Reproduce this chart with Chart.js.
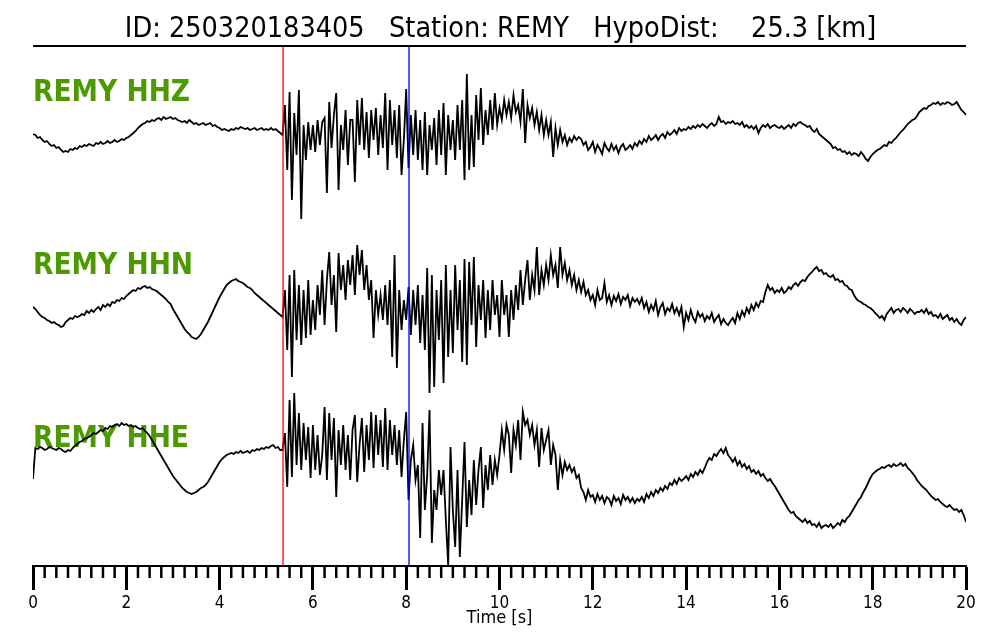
<!DOCTYPE html>
<html>
<head>
<meta charset="utf-8">
<title>REMY waveforms</title>
<script src="https://cdn.jsdelivr.net/npm/chart.js@4.4.1/dist/chart.umd.min.js"></script>
<style>
  html, body { margin: 0; padding: 0; background: #fff; }
  #wrap { width: 1000px; height: 640px; }
</style>
</head>
<body>
<div id="wrap"><canvas id="waveChart" width="1000" height="640"></canvas></div>
<script>
var FONT = "'DejaVu Sans Condensed', 'DejaVu Sans', sans-serif";
var DT = 0.05;          // sample step of the arrays below [s]
var MINOR_STEP = 0.25;  // minor tick spacing [s]
var titleText = 'ID: 250320183405   Station: REMY   HypoDist:    25.3 [km]';
var channels = ['REMY HHZ', 'REMY HHN', 'REMY HHE'];
var traceOffsets = [436, 256, 116];   // vertical offset of each trace
var labelLift = [29, 36, 3];          // label baseline above trace offset
var pickTimes = [5.36, 8.06];         // P and S picks [s]
var pickColors = ['#ff0000', '#0000ff'];

// amplitudes, one value every DT seconds (0 .. 20 s)
var hhz = [
  -4, -5, -8, -7, -10, -12, -11, -14, -16, -15, -18, -17, -20, -22, -21, -22, -19, -20, -18, -19,
  -16, -17, -15, -16, -14, -15, -16, -13, -14, -12, -14, -13, -11, -13, -12, -10, -12, -11, -9, -10,
  -8, -7, -5, -3, -1, 2, 4, 6, 7, 9, 8, 10, 9, 11, 12, 10, 13, 11, 12, 13,
  11, 12, 10, 9, 8, 9, 7, 10, 8, 6, 7, 5, 6, 7, 5, 6, 7, 4, 5, 3,
  2, 0, 1, 0, -1, 1, 0, 2, 1, 3, 2, 1, 2, 0, 1, 2, 0, 1, 2, 0,
  1, 0, 2, 0, 1, -1, -3,
  -5, 25, -40, 38, -70, 17, -25, 40, -89, 5, -30, 8, -20,
  5, -22, 10, -15, 8, 12, -63, 28, -18, 15, 37, -60, 5, -20, 20, -35, 10, 10, -52, 30,
  -15, 32, -20, 18, -28, 20, -10, 22, -25, 15, -18, 37, -40, 30, -15, 20, -28, 25, -45, -10,
  41, -38, 15, -25, 20, -30, 10, -40, 18, -45, 5, -20, 12, -35, 20, -25, 27, -45, 15, -20,
  10, -30, 25, -20, 30, -50, 56, -40, 15, -37, 35, -10, 42, -15, 20, -5, 30, 0, 37, 5,
  22, 10, 30, 15, 28, 12, 35, 18, 25, 8, 41, -13, 25, 12, 22, 5, 18, 0, 15, -5,
  10, -5, 8, -27, 2, -15, 0, -12, -5, -15, -8, -12, -6, -10, -7, -9, -15, -12, -20, -17,
  -12, -22, -15, -19, -24, -13, -18, -21, -14, -20, -16, -23, -17, -14, -20, -18, -15, -19, -13, -16,
  -11, -14, -9, -12, -6, -10, -8, -5, -10, -6, -4, -8, -2, -5, -3, 0, -4, 2, -1, 1,
  0, 3, 1, 4, 2, 5, 3, 6, 4, 2, 5, 7, 4, 6, 13, 8, 9, 6, 8, 7,
  9, 6, 7, 5, 8, 3, 5, 2, 4, 1, 4, -3, 2, 5, 3, 6, 2, 4, 5, 3,
  2, 4, 1, 3, 5, 2, 6, 4, 7, 8, 6, 5, 3, 4, 0, -2, 1, -4, -6, -8,
  -10, -12, -14, -18, -17, -20, -19, -22, -21, -24, -22, -25, -23, -24, -26, -22, -25, -29, -31, -27,
  -24, -22, -20, -19, -17, -15, -16, -12, -13, -10, -8, -5, -2, 0, 3, 6, 8, 10, 11, 14,
  18, 20, 22, 21, 24, 25, 27, 26, 28, 25, 27, 26, 28, 27, 25, 26, 28, 24, 20, 18, 15
];
var hhn = [
  3, 1, -2, -5, -7, -8, -10, -11, -13, -12, -14, -15, -17, -16, -12, -10, -8, -9, -6, -7,
  -6, -4, -5, -1, -3, 0, -2, 1, 3, 0, 5, 3, 6, 4, 8, 7, 10, 9, 12, 11,
  14, 16, 18, 20, 19, 22, 21, 23, 24, 22, 23, 21, 20, 19, 17, 15, 13, 11, 8, 6,
  1, -3, -7, -11, -15, -19, -22, -24, -27, -28, -29, -27, -24, -20, -16, -12, -7, -2, 3, 8,
  13, 17, 21, 25, 27, 29, 30, 31, 29, 28, 27, 25, 23, 22, 20, 17, 15, 13, 11, 9,
  7, 5, 3, 1, -1, -3, -5,
  -7, 20, -40, 35, -67, 40, -30, 25, -35, 20, -28, 30, -25,
  10, -20, 25, -5, 40, -15, 30, 58, 5, 35, -22, 57, 20, 45, 10, 50, 25, 55, 15, 65,
  35, 60, 20, 45, 10, 30, -28, 20, -5, 15, -10, 25, -15, 30, -47, 55, -58, 20, -20, 10,
  -10, 23, -25, 20, -15, 25, -33, 15, -40, 42, -83, 35, -77, 20, -30, 30, -73, 45, -47, 20,
  -43, 45, -20, 30, -52, 51, -55, 48, -15, 53, -37, 25, -10, 30, -28, 20, -20, 30, -5, 15,
  -27, 30, -5, 15, -27, 20, -10, 25, 0, 40, 5, 30, 50, 10, 35, 20, 63, 15, 40, 25,
  45, 30, 55, 35, 45, 22, 63, 35, 47, 30, 40, 25, 35, 20, 30, 18, 28, 15, 20, 10,
  15, 5, 20, 10, 12, 27, 8, 15, 5, 14, 9, 16, 6, 13, 10, 15, 4, 12, 8, 11,
  6, 12, 2, 8, -2, 5, 0, 9, -5, 3, 7, -4, 2, -1, 6, -3, 2, -5, 3, -17,
  -3, -10, 0, -8, -12, -2, -7, -4, -11, -6, -9, -3, -12, -8, -5, -14, -9, -13, -15, -11,
  -8, -13, -3, -9, -1, -6, 2, -3, 5, 0, 7, 3, 9, 8, 18, 25, 20, 22, 17, 20,
  18, 22, 17, 19, 23, 21, 25, 27, 24, 28, 30, 29, 33, 36, 38, 41, 43, 39, 40, 36,
  37, 34, 33, 35, 30, 31, 28, 29, 25, 24, 21, 20, 15, 11, 9, 8, 6, 5, 3, 2,
  0, -3, -5, -8, -6, -10, -4, -1, 2, -3, 0, 1, -2, 2, 0, -3, 1, -1, -4, -2,
  -2, 0, -3, 1, -4, -2, -6, -5, -8, -4, -9, -7, -5, -10, -8, -12, -9, -13, -15, -10, -7
];
var hhe = [
  -29, 2, 1, 3, 2, 0, 1, 3, 2, 1, 0, 2, 1, -1, -2, 0, -1, 2, 4, 6,
  8, 9, 11, 12, 13, 15, 17, 16, 18, 20, 19, 22, 21, 24, 23, 25, 26, 24, 27, 25,
  26, 24, 25, 23, 24, 22, 21, 22, 19, 17, 14, 10, 6, 2, -2, -6, -10, -14, -18, -22,
  -26, -29, -32, -35, -38, -40, -42, -43, -44, -43, -42, -40, -38, -37, -35, -32, -28, -24, -20, -16,
  -12, -9, -7, -5, -4, -3, -4, -2, -3, -1, -3, -2, -1, -3, 0, -1, 1, 0, 2, 1,
  3, 2, 4, 5, 2, 3, 0,
  0, 17, -37, 50, -27, 57, -15, 37, -20, 27, -10, 23, -28,
  25, -20, 15, -25, -5, 43, -30, 37, -10, 32, -47, 20, -15, 25, -20, 15, -30, 20, 35, -32,
  5, 32, -22, 25, -10, 38, -18, 35, -5, 30, -17, 42, -20, 30, -5, 25, -15, 20, -27, 10,
  38, -50, -10, 5, -30, -15, -88, 27, -60, -25, 40, -93, -40, -60, -20, -45, -20, -70, -115, 3,
  -60, -97, -20, -107, -50, 8, -77, -30, -65, -10, -55, -20, 3, -58, -15, -40, -5, -35, -10, -25,
  -5, 20, 0, 25, 15, -23, 20, 5, 30, -10, 38, 25, 30, 15, 25, 5, 20, -17, 22, 0,
  10, 20, -15, 5, -5, -40, -10, -25, -12, -20, -15, -22, -18, -28, -25, -38, -42, -50, -40, -47,
  -45, -52, -44, -50, -46, -53, -47, -49, -55, -46, -51, -48, -54, -45, -50, -47, -52, -48, -53, -49,
  -51, -47, -52, -44, -48, -42, -46, -40, -43, -38, -41, -36, -39, -33, -35, -30, -34, -28, -31, -29,
  -26, -30, -24, -27, -22, -25, -20, -23, -18, -12, -8, -10, -4, -6, -2, 1, -3, 2, -5, -8,
  -12, -8, -15, -11, -17, -14, -19, -16, -22, -20, -24, -21, -26, -24, -28, -31, -29, -33, -36, -40,
  -44, -48, -52, -56, -60, -63, -62, -66, -68, -70, -72, -69, -73, -71, -75, -74, -77, -73, -78, -76,
  -75, -77, -74, -78, -76, -73, -75, -70, -72, -68, -66, -62, -58, -54, -50, -47, -42, -38, -33, -28,
  -24, -22, -20, -19, -17, -18, -16, -15, -17, -14, -16, -15, -13, -16, -14, -18, -20, -23, -26, -30,
  -33, -36, -38, -40, -43, -46, -48, -50, -49, -52, -54, -56, -57, -55, -58, -60, -59, -62, -60, -65, -72
];
var traces = [hhz, hhn, hhe];

function toPoints(amps, offset) {
  return amps.map(function(a, i) { return { x: i * DT, y: offset + a }; });
}

var datasets = traces.map(function(amps, k) {
  return {
    label: channels[k],
    data: toPoints(amps, traceOffsets[k]),
    borderColor: '#000',
    borderWidth: 1.8,
    pointRadius: 0,
    tension: 0,
    fill: false
  };
});

var seisDecor = {
  id: 'seisDecor',
  beforeDatasetsDraw: function(chart) {
    var ctx = chart.ctx, area = chart.chartArea, y = chart.scales.y;
    ctx.save();
    // title + line under it
    ctx.fillStyle = '#000';
    ctx.font = '28.5px ' + FONT;
    ctx.textAlign = 'center';
    ctx.textBaseline = 'alphabetic';
    ctx.fillText(titleText, (area.left + area.right) / 2 + 1, 37);
    ctx.strokeStyle = '#000';
    ctx.lineWidth = 2;
    ctx.beginPath();
    ctx.moveTo(area.left, area.top);
    ctx.lineTo(area.right, area.top);
    ctx.stroke();
    // channel labels
    ctx.fillStyle = '#4c9900';
    ctx.font = 'bold 29.5px ' + FONT;
    ctx.textAlign = 'left';
    channels.forEach(function(name, k) {
      ctx.fillText(name, area.left, y.getPixelForValue(traceOffsets[k] + labelLift[k]));
    });
    ctx.restore();
  },
  afterDatasetsDraw: function(chart) {
    var ctx = chart.ctx, area = chart.chartArea, x = chart.scales.x;
    ctx.save();
    ctx.lineWidth = 1.3;
    pickTimes.forEach(function(t, k) {
      var px = x.getPixelForValue(t);
      ctx.strokeStyle = pickColors[k];
      ctx.beginPath();
      ctx.moveTo(px, area.top + 1);
      ctx.lineTo(px, area.bottom);
      ctx.stroke();
    });
    ctx.restore();
  },
  afterDraw: function(chart) {
    // minor ticks
    var ctx = chart.ctx, area = chart.chartArea, x = chart.scales.x;
    ctx.save();
    ctx.strokeStyle = '#000';
    ctx.lineWidth = 2.5;
    for (var k = 0; k * MINOR_STEP <= x.max + 1e-9; k++) {
      var t = k * MINOR_STEP;
      if (Math.abs(t / 2 - Math.round(t / 2)) < 1e-9) continue;
      var px = x.getPixelForValue(t);
      ctx.beginPath();
      ctx.moveTo(px, area.bottom);
      ctx.lineTo(px, area.bottom + 12);
      ctx.stroke();
    }
    ctx.restore();
  }
};

var waveChart = new Chart(document.getElementById('waveChart'), {
  type: 'line',
  data: { datasets: datasets },
  options: {
    responsive: false,
    animation: false,
    devicePixelRatio: 1,
    layout: { padding: { left: 33, right: 34, top: 46, bottom: 0 } },
    plugins: {
      legend: { display: false },
      tooltip: { enabled: false },
      title: { display: false }
    },
    scales: {
      x: {
        type: 'linear',
        min: 0,
        max: 20,
        afterFit: function(scale) { scale.height = 74; },
        ticks: {
          stepSize: 2,
          autoSkip: false,
          maxRotation: 0,
          padding: 3,
          color: '#000',
          font: { family: FONT, size: 17 }
        },
        grid: {
          display: true,
          drawOnChartArea: false,
          drawTicks: true,
          tickLength: 24,
          tickWidth: 3,
          tickColor: '#000'
        },
        border: { display: true, color: '#000', width: 2 },
        title: {
          display: true,
          text: 'Time [s]',
          color: '#000',
          font: { family: FONT, size: 18 },
          padding: { top: 0, bottom: 11 }
        }
      },
      y: {
        type: 'linear',
        display: false,
        min: 0,
        max: 520
      }
    }
  },
  plugins: [seisDecor]
});
</script>
</body>
</html>
